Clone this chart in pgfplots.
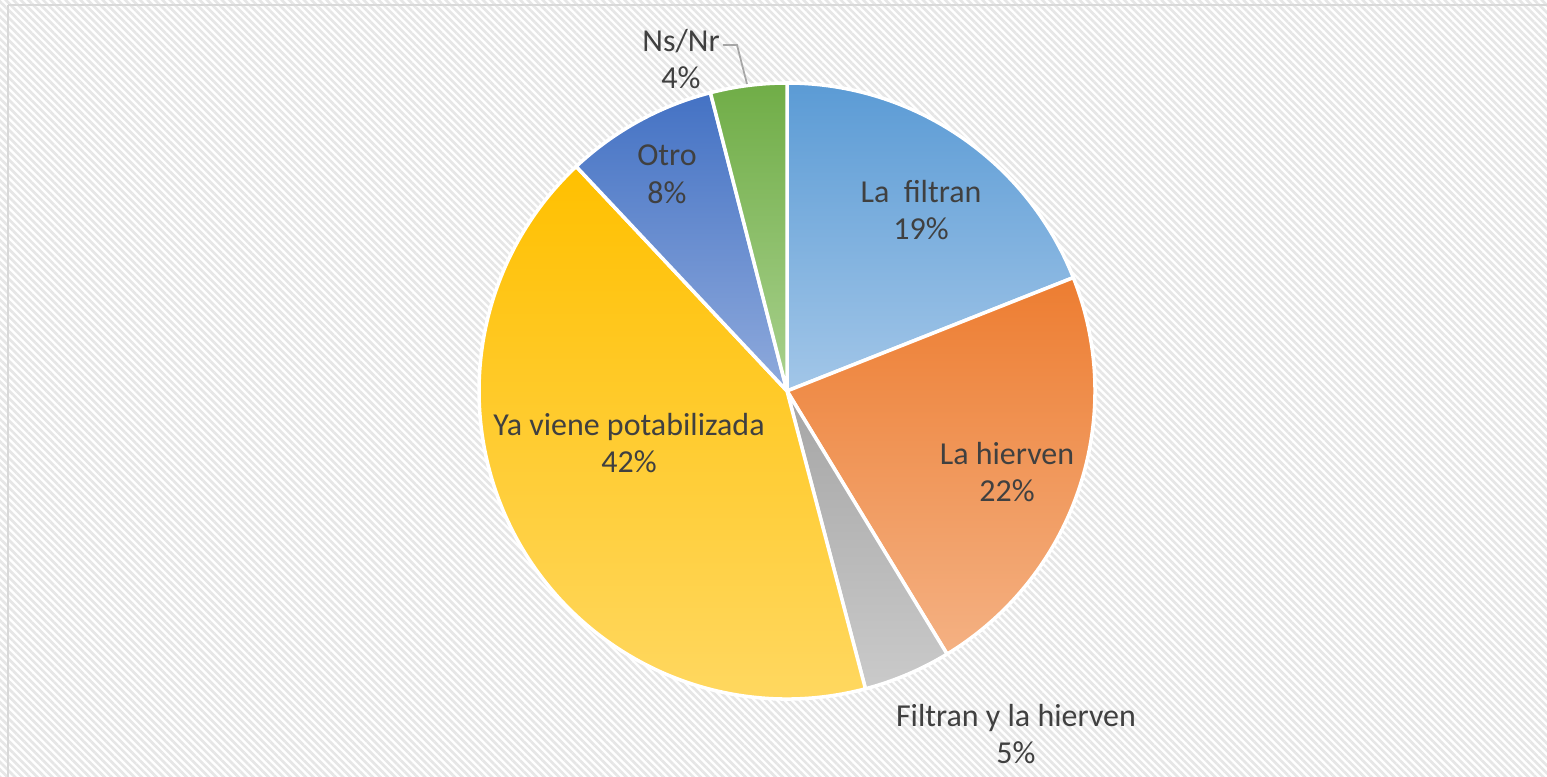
\documentclass[border=0pt]{standalone}
\usepackage{pgfplots}
\pgfplotsset{compat=1.18}
\usepackage{pgfplotstable}
\usepackage{fontspec}
\setmainfont{Carlito}
\usetikzlibrary{patterns.meta}
\definecolor{txt}{HTML}{404040}
\definecolor{bluA}{HTML}{5B9BD5}\definecolor{bluB}{HTML}{A2C6E8}
\definecolor{orA}{HTML}{ED7D31}\definecolor{orB}{HTML}{F4B183}
\definecolor{grA}{HTML}{A5A5A5}\definecolor{grB}{HTML}{CACACA}
\definecolor{yeA}{HTML}{FFC000}\definecolor{yeB}{HTML}{FFD966}
\definecolor{dbA}{HTML}{4472C4}\definecolor{dbB}{HTML}{8FAADC}
\definecolor{gnA}{HTML}{70AD47}\definecolor{gnB}{HTML}{A9D18E}
\definecolor{bgline}{HTML}{E6E6E6}
\definecolor{frame}{HTML}{D9D9D9}
\pgfplotstableread[col sep=comma]{
value,top,bottom
19.0,bluA,bluB
22.3,orA,orB
4.6,grA,grB
42.1,yeA,yeB
8.0,dbA,dbB
4.0,gnA,gnB
}\piedata
\begin{document}
\begin{tikzpicture}
\begin{axis}[hide axis, x=1cm, y=1cm, xmin=0, xmax=15.47, ymin=0, ymax=7.77,
  at={(0,0)}, anchor=origin]
\coordinate (BL) at (axis cs:0,0);
\coordinate (TR) at (axis cs:15.47,7.77);
\fill[white] (axis cs:0,0) rectangle (axis cs:15.47,7.77);
\fill[pattern={Lines[angle=-45, distance=1.5pt, line width=0.75pt]}, pattern color=bgline]
  (axis cs:0,0) rectangle (axis cs:15.47,7.77);
\draw[frame, line width=0.6pt] (axis cs:0.08,7.72) -- (axis cs:16,7.72);
\draw[frame, line width=0.6pt] (axis cs:0.08,7.72) -- (axis cs:0.08,-1);
\pgfplotsextra{
  \gdef\gcum{0}
  \foreach \i in {0,...,5} {
    \pgfplotstablegetelem{\i}{value}\of\piedata \let\v\pgfplotsretval
    \pgfplotstablegetelem{\i}{top}\of\piedata \let\ct\pgfplotsretval
    \pgfplotstablegetelem{\i}{bottom}\of\piedata \let\cb\pgfplotsretval
    \pgfmathsetmacro\sa{90-3.6*\gcum}
    \pgfmathsetmacro\ea{90-3.6*(\gcum+\v)}
    \shadedraw[top color=\ct, bottom color=\cb, draw=white, line width=1pt, line join=round]
      (axis cs:7.87,3.86) -- ++(\sa:3.08cm) arc[start angle=\sa, end angle=\ea, radius=3.08cm] -- cycle;
    \pgfmathsetmacro\nc{\gcum+\v}
    \xdef\gcum{\nc}
  }
}
\draw[gray!70, line width=0.5pt] (axis cs:7.23,7.32) -- (axis cs:7.37,7.32) -- (axis cs:7.47,6.93);
\tikzset{lbl/.style={text=txt, align=center, font=\fontsize{9.1}{10.7}\selectfont, inner sep=0pt}}
\node[lbl] at (axis cs:9.21,5.67) {La\ \ filtran\\19\%};
\node[lbl] at (axis cs:10.07,3.05) {La hierven\\22\%};
\node[lbl] at (axis cs:10.16,0.43) {Filtran y la hierven\\5\%};
\node[lbl] at (axis cs:6.29,3.34) {Ya viene potabilizada\\42\%};
\node[lbl] at (axis cs:6.67,6.03) {Otro\\8\%};
\node[lbl] at (axis cs:6.81,7.18) {Ns/Nr\\4\%};
\end{axis}
\pgfresetboundingbox
\path (BL) rectangle (TR);
\end{tikzpicture}
\end{document}
